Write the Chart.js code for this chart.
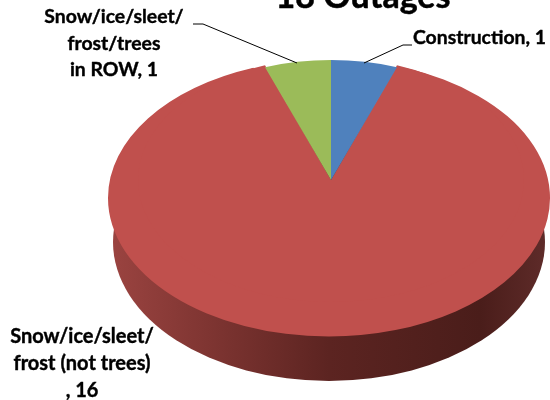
<!DOCTYPE html>
<html>
<head>
<meta charset="utf-8">
<title>18 Outages</title>
<script src="https://cdn.jsdelivr.net/npm/chart.js@4"></script>
<style>
  html, body { margin: 0; padding: 0; background: #fff; }
  #wrap { position: relative; width: 550px; height: 400px; overflow: hidden; }
</style>
</head>
<body>
<div id="wrap"><canvas id="chart" width="550" height="400"></canvas></div>
<script>
const chartTitle = '18 Outages';
const categories = ['Construction', 'Snow/ice/sleet/frost (not trees)', 'Snow/ice/sleet/frost/trees in ROW'];
const outages = [1, 16, 1];
const sliceColors = ['#4f81bd', '#c0504d', '#9bbb59'];
const labelLines = [
  ['Construction, 1'],
  ['Snow/ice/sleet/', 'frost (not trees)', ', 16'],
  ['Snow/ice/sleet/', 'frost/trees', 'in ROW, 1'],
];

const RADIUS = 221;

// draw arcs squashed so the circle lands on the given ellipse
function drawArcs(ctx, arcs, cx, cy, sx, sy) {
  ctx.save();
  ctx.translate(cx, cy);
  ctx.scale(sx, sy);
  ctx.translate(-arcs[0].x, -arcs[0].y);
  arcs.forEach(a => a.draw(ctx));
  ctx.restore();
}

// Lato bold is a bit light next to the original, so thicken it slightly
function boldText(ctx, text, x, y) {
  ctx.strokeText(text, x, y);
  ctx.fillText(text, x, y);
}

const tiltedPie = {
  id: 'tiltedPie',
  beforeDatasetsDraw(chart) {
    const ctx = chart.ctx;
    const arcs = chart.getDatasetMeta(0).data;
    const apexX = arcs[0].x, apexY = arcs[0].y;

    // side wall, top face covers all but its lower rim
    const grad = ctx.createLinearGradient(113, 0, 545, 0);
    grad.addColorStop(0, '#9a4340');
    grad.addColorStop(0.25, '#7b3330');
    grad.addColorStop(0.5, '#5c2421');
    grad.addColorStop(0.85, '#4a1d1a');
    grad.addColorStop(1, '#5e2b29');
    ctx.save();
    ctx.beginPath();
    ctx.ellipse(329, 242, 216, 139, 0, 0, Math.PI * 2);
    ctx.fillStyle = grad;
    ctx.fill();
    ctx.restore();

    // the big slice gives the outline, its apex sits in the middle of the ellipse
    drawArcs(ctx, [arcs[1]], 329, 198, 1, 138.5 / RADIUS);
    // perspective pulls the real apex up and the small slices in
    drawArcs(ctx, [arcs[1]], apexX, apexY, 0.873, 122 / RADIUS);
    drawArcs(ctx, [arcs[0], arcs[2]], apexX, apexY, 0.873, 120 / RADIUS);
    return false;
  },
  afterDraw(chart) {
    const ctx = chart.ctx;
    ctx.save();
    ctx.textAlign = 'center';
    ctx.fillStyle = '#000';
    ctx.strokeStyle = '#000';
    ctx.lineJoin = 'round';

    ctx.lineWidth = 0.5;
    ctx.textBaseline = 'alphabetic';
    ctx.font = 'bold 34px Lato';
    boldText(ctx, chartTitle, 363, 8);

    ctx.lineWidth = 0.4;
    ctx.textBaseline = 'middle';
    ctx.font = 'bold 19.4px Lato';
    ctx.textAlign = 'left';
    boldText(ctx, labelLines[0][0], 413, 38);
    ctx.textAlign = 'center';
    labelLines[2].forEach((t, i) => boldText(ctx, t, 114, 17 + i * 26.5));
    ctx.font = 'bold 20px Lato';
    labelLines[1].forEach((t, i) => boldText(ctx, t, 82, 337 + i * 27));

    // leader lines
    ctx.lineWidth = 1;
    ctx.beginPath();
    ctx.moveTo(193, 24); ctx.lineTo(203, 24); ctx.lineTo(297, 63);
    ctx.moveTo(412, 45); ctx.lineTo(403, 45); ctx.lineTo(364, 63);
    ctx.stroke();
    ctx.restore();
  },
};

new Chart(document.getElementById('chart'), {
  type: 'pie',
  data: {
    labels: categories,
    datasets: [{ data: outages, backgroundColor: sliceColors, borderWidth: 0, radius: RADIUS }],
  },
  options: {
    responsive: false,
    animation: false,
    layout: { padding: { left: 112, bottom: 40 } },
    plugins: { legend: { display: false }, tooltip: { enabled: false } },
  },
  plugins: [tiltedPie],
});
</script>
</body>
</html>
